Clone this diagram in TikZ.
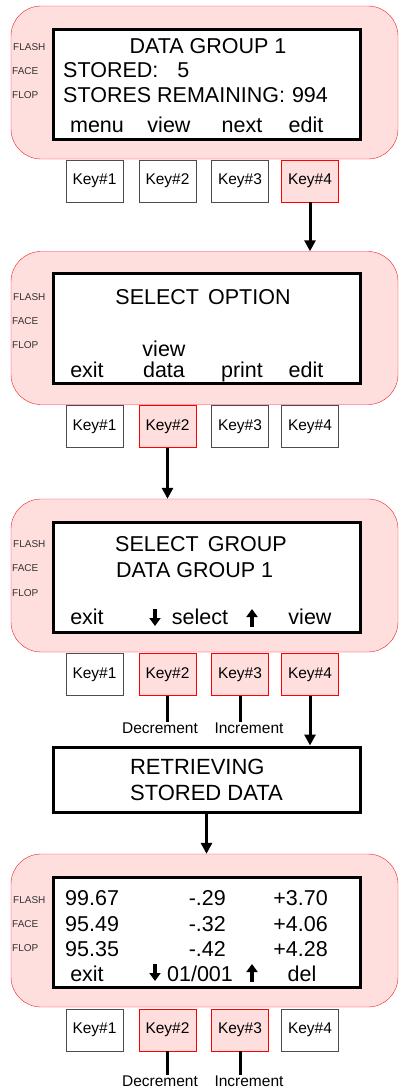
\documentclass[tikz,border=0pt]{standalone}
\usepackage{fontspec}
\setmainfont{Liberation Sans}
\usepackage{tikz}
\usetikzlibrary{arrows.meta,positioning,calc}
\definecolor{panelpink}{RGB}{255,222,222}
\definecolor{panelred}{RGB}{238,34,34}

\begin{document}
\begin{tikzpicture}[x=1pt,y=-1pt,>={Triangle[width=11pt,length=11pt]},
  panel/.style={draw=panelred,fill=panelpink,rounded corners=30pt,
                minimum width=387pt,minimum height=153pt},
  lcd/.style={draw,line width=3pt,fill=white,minimum width=307pt,minimum height=110pt},
  key/.style={draw=black!70,fill=white,minimum width=57pt,minimum height=42pt,
              inner sep=0pt,font=\fontsize{15.5}{18}\selectfont},
  keyon/.style={key,draw=red,fill=panelpink},
  side/.style={anchor=base west,inner sep=0pt,text=black!80,font=\fontsize{10}{12}\selectfont},
  txt/.style={anchor=base,inner sep=0pt,font=\fontsize{21.5}{24}\selectfont},
  note/.style={anchor=base,inner sep=0pt,font=\fontsize{15.5}{18}\selectfont},
  flow/.style={line width=3pt},
  tick/.style={line width=3.5pt,-{Triangle[width=11pt,length=8pt]}}]
\useasboundingbox (0,0) rectangle (400,1088);

% data group screen
\node[panel] (frame1) at (204.5,82.5) {};
\node[lcd] (lcd1) at (206.5,84) {};
\node[side] (flash1) at (13,50) {FLASH};
\node[side] (face1) at (12,74) {FACE};
\node[side] (flop1) at (12,98) {FLOP};
\node[txt] (title1) at (208,53) {DATA GROUP 1};
\node[txt,anchor=base west] (stored1) at (63,77) {STORED:\hspace{19pt}5};
\node[txt,anchor=base west] (remain1) at (63,102) {STORES REMAINING:\hspace{7pt}994};
\node[txt] (menu1) at (97,132) {menu};
\node[txt] (view1) at (169,132) {view};
\node[txt] (next1) at (242,132) {next};
\node[txt] (edit1) at (306,132) {edit};
\node[key] (k11) at (94.5,181) {Key\#1};
\node[key] (k12) at (167.5,181) {Key\#2};
\node[key] (k13) at (240,181) {Key\#3};
\node[keyon] (k14) at (310,181) {Key\#4};

% option screen
\node[panel] (frame2) at (204.5,328) {};
\node[lcd] (lcd2) at (206.5,328.5) {};
\node[side] (flash2) at (13,300) {FLASH};
\node[side] (face2) at (12,324) {FACE};
\node[side] (flop2) at (12,348) {FLOP};
\node[txt] (title2) at (203,304) {SELECT\hspace{9pt}OPTION};
\node[txt] (exit2) at (87,377) {exit};
\node[txt,align=center,font=\fontsize{21.5}{20.5}\selectfont] (view2) at (164,377) {view\\data};
\node[txt] (print2) at (242,377) {print};
\node[txt] (edit2) at (306,377) {edit};
\node[key] (k21) at (94.5,426.5) {Key\#1};
\node[keyon] (k22) at (167.5,426.5) {Key\#2};
\node[key] (k23) at (240,426.5) {Key\#3};
\node[key] (k24) at (310,426.5) {Key\#4};

% group screen
\node[panel] (frame3) at (204.5,575.5) {};
\node[lcd] (lcd3) at (206.5,577) {};
\node[side] (flash3) at (13,547) {FLASH};
\node[side] (face3) at (12,571) {FACE};
\node[side] (flop3) at (12,596) {FLOP};
\node[txt,anchor=base west] (title3) at (115,551) {SELECT\hspace{9pt}GROUP};
\node[txt,anchor=base west] (group3) at (116,577) {DATA GROUP 1};
\node[txt] (exit3) at (87,624) {exit};
\node[txt] (select3) at (200,624) {select};
\node[txt] (view3) at (310,624) {view};
\draw[tick] (155,609) -- (155,626);
\draw[tick] (252,627) -- (252,609);
\node[key] (k31) at (94.5,674.5) {Key\#1};
\node[keyon] (k32) at (167.5,674.5) {Key\#2};
\node[keyon] (k33) at (240,674.5) {Key\#3};
\node[keyon] (k34) at (310,674.5) {Key\#4};
\node[note] (dec3) at (160,733) {Decrement};
\node[note] (inc3) at (249,733) {Increment};

\node[lcd,minimum height=65pt,align=left,inner sep=0pt,
      font=\fontsize{22}{26}\selectfont] (retr) at (206.5,779.5) {RETRIEVING\\STORED DATA};

% stored data screen
\node[panel] (frame4) at (204.5,930.5) {};
\node[lcd] (lcd4) at (206.5,932.5) {};
\node[side] (flash4) at (13,903) {FLASH};
\node[side] (face4) at (12,927) {FACE};
\node[side] (flop4) at (12,951) {FLOP};
\node[txt,anchor=base west] (a4) at (65,905) {99.67};
\node[txt,anchor=base west] (b4) at (65,931) {95.49};
\node[txt,anchor=base west] (c4) at (65,956) {95.35};
\node[txt,anchor=base east] (d4) at (226,905) {-.29};
\node[txt,anchor=base east] (e4) at (226,931) {-.32};
\node[txt,anchor=base east] (f4) at (226,956) {-.42};
\node[txt,anchor=base east] (g4) at (328,905) {+3.70};
\node[txt,anchor=base east] (h4) at (328,931) {+4.06};
\node[txt,anchor=base east] (i4) at (328,956) {+4.28};
\node[txt] (exit4) at (87,981) {exit};
\node[txt] (rec4) at (200,981) {01/001};
\node[txt] (del4) at (302,981) {del};
\draw[tick] (155,964) -- (155,981);
\draw[tick] (252,982) -- (252,964);
\node[key] (k41) at (94.5,1030) {Key\#1};
\node[keyon] (k42) at (167.5,1030) {Key\#2};
\node[keyon] (k43) at (240,1030) {Key\#3};
\node[key] (k44) at (310,1030) {Key\#4};
\node[note] (dec4) at (160,1086) {Decrement};
\node[note] (inc4) at (249,1086) {Increment};

\draw[->,flow] (k14.south)--(k14.south |- frame2.north);
\draw[->,flow] (k22.south)--(k22.south |- frame3.north);
\draw[flow] (k32.south)--(k32.south |- dec3.north);
\draw[flow] (k33.south)--(k33.south |- inc3.north);
\draw[->,flow] (k34.south)--(k34.south |- retr.north);
\draw[->,flow] (retr.south)--(retr.south |- frame4.north);
\draw[flow] (k42.south)--(k42.south |- dec4.north);
\draw[flow] (k43.south)--(k43.south |- inc4.north);
\end{tikzpicture}
\end{document}
